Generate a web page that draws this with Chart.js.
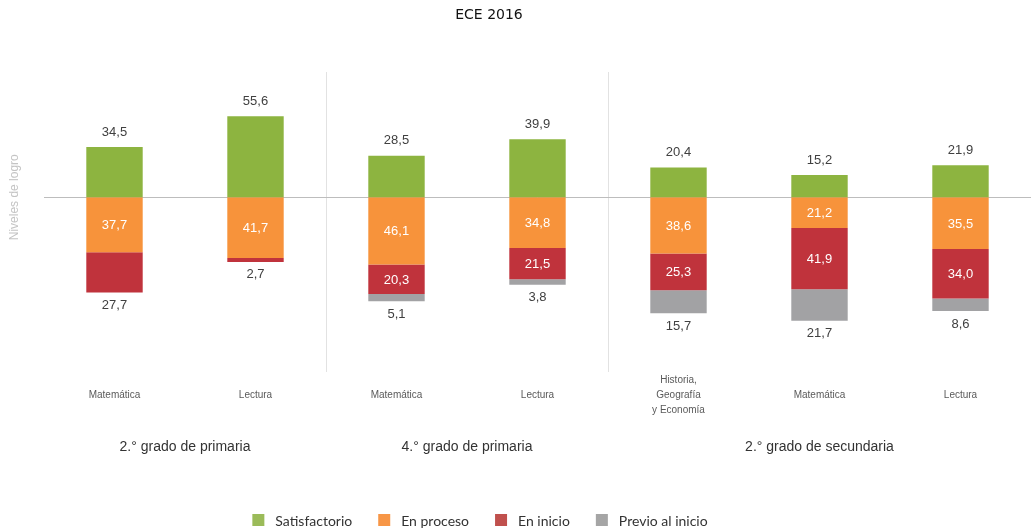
<!DOCTYPE html>
<html>
<head>
<meta charset="utf-8">
<script src="https://cdn.jsdelivr.net/npm/chart.js@4.4.0/dist/chart.umd.min.js"></script>
<style>
  body { margin: 0; background: #fff; }
  #wrap { width: 1031px; height: 529px; position: relative; }
</style>
</head>
<body>
<div id="wrap"><canvas id="chart-area"></canvas></div>
<script>
// categorías (asignaturas) y grupos
var categorias = [['Matemática'], ['Lectura'], ['Matemática'], ['Lectura'], ['Historia,', 'Geografía', 'y Economía'], ['Matemática'], ['Lectura']];
var grupos = ['2.° grado de primaria', '4.° grado de primaria', '2.° grado de secundaria'];
var grupoDesde = [0, 2, 4];
var grupoHasta = [1, 3, 6];

// porcentajes por nivel de logro
var satisfactorio = [34.5, 55.6, 28.5, 39.9, 20.4, 15.2, 21.9];
var enProceso = [37.7, 41.7, 46.1, 34.8, 38.6, 21.2, 35.5];
var enInicio = [27.7, 2.7, 20.3, 21.5, 25.3, 41.9, 34.0];
var previoInicio = [null, null, 5.1, 3.8, 15.7, 21.7, 8.6];

var colores = ['#8db440', '#f7933b', '#c0333c', '#a2a2a4'];
var coloresLeyenda = ['#9bbb59', '#f79646', '#c0504d', '#a5a5a5'];
var nombres = ['Satisfactorio', 'En proceso', 'En inicio', 'Previo al inicio'];

function neg(arr) { return arr.map(function (v) { return v == null ? null : -v; }); }
function fmt(v) { return Math.abs(v).toFixed(1).replace('.', ','); }

var extras = {
  id: 'extras',
  beforeDatasetsDraw: function (chart) {
    var c = chart.ctx, a = chart.chartArea, x = chart.scales.x, y = chart.scales.y;
    c.save();
    // separadores de grupos
    c.strokeStyle = '#e2e2e2';
    c.lineWidth = 1;
    [1, 3].forEach(function (i) {
      var px = Math.round((x.getPixelForValue(i) + x.getPixelForValue(i + 1)) / 2) + 0.5;
      c.beginPath(); c.moveTo(px, a.top); c.lineTo(px, a.bottom); c.stroke();
    });
    // línea base
    var y0 = Math.round(y.getPixelForValue(0)) + 0.5;
    c.strokeStyle = '#bdbdbd';
    c.beginPath(); c.moveTo(a.left, y0); c.lineTo(a.right, y0); c.stroke();
    c.restore();
  },
  afterDatasetsDraw: function (chart) {
    var c = chart.ctx, a = chart.chartArea, x = chart.scales.x, y = chart.scales.y;
    c.save();
    c.textAlign = 'center';
    c.textBaseline = 'middle';
    c.font = '13px "Liberation Sans", Arial, sans-serif';
    var n = categorias.length;
    for (var i = 0; i < n; i++) {
      // etiqueta superior
      var top = chart.getDatasetMeta(0).data[i];
      c.fillStyle = '#404040';
      c.fillText(fmt(satisfactorio[i]), top.x, top.y - 15);
      // último segmento negativo
      var last = 1;
      for (var d = 1; d < 4; d++) {
        if (chart.data.datasets[d].data[i] != null) last = d;
      }
      for (var d = 1; d < 4; d++) {
        var v = chart.data.datasets[d].data[i];
        if (v == null) continue;
        var el = chart.getDatasetMeta(d).data[i];
        if (d === last) {
          c.fillStyle = '#404040';
          c.fillText(fmt(v), el.x, Math.max(el.y, el.base) + 13);
        } else {
          c.fillStyle = '#ffffff';
          c.fillText(fmt(v), el.x, (el.y + el.base) / 2 + 1);
        }
      }
      // nombre de la categoría
      c.fillStyle = '#5a5a5a';
      c.font = '10px "Liberation Sans", Arial, sans-serif';
      var lines = categorias[i];
      var cx = x.getPixelForValue(i);
      for (var k = 0; k < lines.length; k++) {
        c.fillText(lines[k], cx, 395 + (k - (lines.length - 1) / 2) * 15);
      }
      c.font = '13px "Liberation Sans", Arial, sans-serif';
    }
    // grupos
    c.fillStyle = '#333333';
    c.font = '14px "Liberation Sans", Arial, sans-serif';
    for (var g = 0; g < grupos.length; g++) {
      var gx = (x.getPixelForValue(grupoDesde[g]) + x.getPixelForValue(grupoHasta[g])) / 2;
      c.fillText(grupos[g], gx, 447);
    }
    // título del eje
    c.save();
    c.translate(15, y.getPixelForValue(0));
    c.rotate(-Math.PI / 2);
    c.fillStyle = '#c4c4c4';
    c.font = '12px "Liberation Sans", Arial, sans-serif';
    c.fillText('Niveles de logro', 0, 0);
    c.restore();
    // título
    c.fillStyle = '#111111';
    c.font = '14px "DejaVu Sans", sans-serif';
    c.fillText('ECE 2016', 489, 15);
    // leyenda
    c.font = '14px Lato, "Open Sans", sans-serif';
    var box = 12, gap = 11, sep = 26, total = 0;
    var widths = nombres.map(function (t) { return c.measureText(t).width; });
    widths.forEach(function (w) { total += box + gap + w; });
    total += sep * (nombres.length - 1);
    var lx = 480 - total / 2;
    c.textAlign = 'left';
    for (var j = 0; j < nombres.length; j++) {
      c.fillStyle = coloresLeyenda[j];
      c.fillRect(lx, 514, box, box);
      c.fillStyle = '#333333';
      c.fillText(nombres[j], lx + box + gap, 521);
      lx += box + gap + widths[j] + sep;
    }
    c.restore();
  }
};

var ctx = document.getElementById('chart-area');
var myChart = new Chart(ctx, {
  type: 'bar',
  data: {
    labels: categorias,
    datasets: [
      { label: nombres[0], data: satisfactorio, backgroundColor: colores[0] },
      { label: nombres[1], data: neg(enProceso), backgroundColor: colores[1] },
      { label: nombres[2], data: neg(enInicio), backgroundColor: colores[2] },
      { label: nombres[3], data: neg(previoInicio), backgroundColor: colores[3] }
    ]
  },
  options: {
    responsive: true,
    maintainAspectRatio: false,
    animation: false,
    layout: { padding: { top: 72, bottom: 157, left: 44, right: 0 } },
    datasets: { bar: { categoryPercentage: 1, barPercentage: 0.4, borderWidth: 0 } },
    scales: {
      x: { stacked: true, display: false },
      y: { stacked: true, display: false, min: -120, max: 86 }
    },
    plugins: {
      legend: { display: false },
      tooltip: { enabled: false }
    }
  },
  plugins: [extras]
});
</script>
</body>
</html>
